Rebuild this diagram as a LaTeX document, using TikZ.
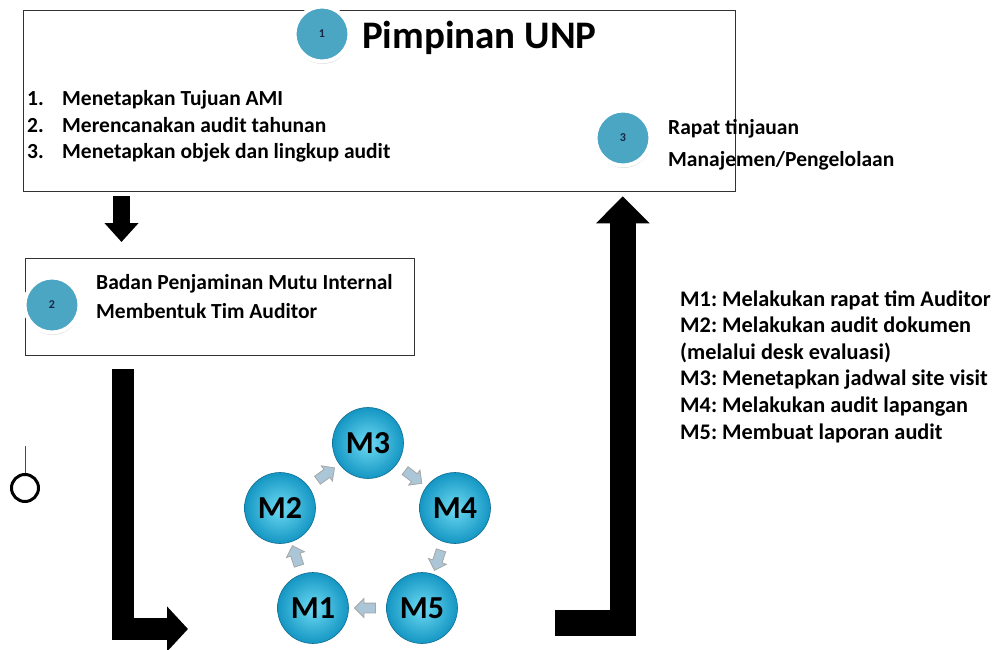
\documentclass[tikz,border=0pt]{standalone}
\usepackage{fontspec}
\setmainfont{Carlito}
\usepackage{tikz}
\usetikzlibrary{arrows.meta, shapes.arrows, shadows, calc, positioning}
\frenchspacing

\definecolor{numteal}{RGB}{75,166,196}
\definecolor{numtext}{RGB}{20,40,70}
\definecolor{balllight}{RGB}{110,218,242}
\definecolor{balldark}{RGB}{20,150,195}
\definecolor{ballrim}{RGB}{18,110,145}
\definecolor{boxline}{RGB}{50,50,50}
\definecolor{cyclearr}{RGB}{170,198,215}

\tikzset{
  numball/.style={circle, fill=numteal, draw=white, line width=4, minimum size=55, inner sep=0,
    font=\fontsize{12}{12}\selectfont\bfseries, text=numtext,
    drop shadow={opacity=0.3, shadow xshift=0.5pt, shadow yshift=-2.5pt}},
  mball/.style={circle, shading=radial, inner color=balllight, outer color=balldark, draw=ballrim,
    line width=0.6, minimum size=71, inner sep=0, font=\fontsize{32}{32}\selectfont\bfseries},
  cyclearrow/.style={single arrow, single arrow head extend=4.5, minimum height=21, inner sep=4.5,
    draw=gray!70, line width=0.8, fill=cyclearr},
  panel/.style={draw=boxline, line width=1.3, inner sep=0},
  item/.style={anchor=base west, inner sep=0, font=\fontsize{21.5}{21.5}\selectfont\bfseries},
  blockarrow/.style={line width=#1, line cap=butt, line join=miter},
}

\begin{document}
\begin{tikzpicture}[x=1pt, y=-1pt]
\useasboundingbox (0,0) rectangle (996,650);

% kotak pimpinan
\node[panel, anchor=north west, minimum width=712, minimum height=181] (pimpinan) at (23,10) {};
\node[numball] (n1) at (322,34) {1};
\node[anchor=base west, inner sep=0, font=\fontsize{39}{39}\selectfont\bfseries] (judul) at (362,49) {Pimpinan UNP};
\foreach \i/\t [count=\k from 0] in {1/Menetapkan Tujuan AMI, 2/Merencanakan audit tahunan, 3/Menetapkan objek dan lingkup audit} {
  \node[item] (no\i) at (27,{106+26.5*\k}) {\i.};
  \node[item] (tugas\i) at (62,{106+26.5*\k}) {\t};
}
\node[numball] (n3) at (623,138) {3};
\node[item] (rapat1) at (668,135) {Rapat tinjauan};
\node[item] (rapat2) at (668,167) {Manajemen/Pengelolaan};

% kotak BPMI
\node[panel, anchor=north west, minimum width=389, minimum height=97] (bpmi) at (25,258) {};
\node[numball] (n2) at (52,305) {2};
\node[item] (bpmi1) at (96,289) {Badan Penjaminan Mutu Internal};
\node[item] (bpmi2) at (96,318) {Membentuk Tim Auditor};

% keterangan M1--M5
\foreach \t [count=\k from 0] in {M1: Melakukan rapat tim Auditor, M2: Melakukan audit dokumen, (melalui desk evaluasi), M3: Menetapkan jadwal site visit, M4: Melakukan audit lapangan, M5: Membuat laporan audit} {
  \node[item, font=\fontsize{22.3}{22.3}\selectfont\bfseries] (ket\k) at (680,{306+26.6*\k}) {\t};
}

% siklus audit
\node[mball] (m3) at (368,443) {M3};
\node[mball] (m2) at (280,508) {M2};
\node[mball] (m4) at (455,508) {M4};
\node[mball] (m1) at (313,608) {M1};
\node[mball] (m5) at (422,608) {M5};
\foreach \a/\b/\r in {m1/m2/108, m2/m3/36, m3/m4/-37, m4/m5/-108, m5/m1/180}
  \node[cyclearrow, rotate=\r] at ($(\a)!.5!(\b)$) {};

% panah
\coordinate (masuk) at (188,629);
\coordinate (keluar) at (555,622.5);
\draw[blockarrow=17, -{Triangle[width=33pt, length=19pt]}] ([xshift=98.5pt, yshift=-4pt]pimpinan.south west) -- ([xshift=96.5pt, yshift=16pt]bpmi.north west);
\draw[blockarrow=22, -{Triangle[width=44pt, length=21pt]}] ([xshift=98pt, yshift=-13pt]bpmi.south west) |- (masuk);
\draw[blockarrow=26, -{Triangle[width=52pt, length=27pt]}] (keluar) -| ([xshift=-113.5pt, yshift=-4pt]pimpinan.south east);

% penanda
\node[circle, draw, line width=3, minimum size=27, inner sep=0] (pin) at (25,488) {};
\coordinate (pinatas) at (25,446);
\draw[line width=0.8, gray!60!black] (pin.north) -- (pinatas);

\end{tikzpicture}
\end{document}
